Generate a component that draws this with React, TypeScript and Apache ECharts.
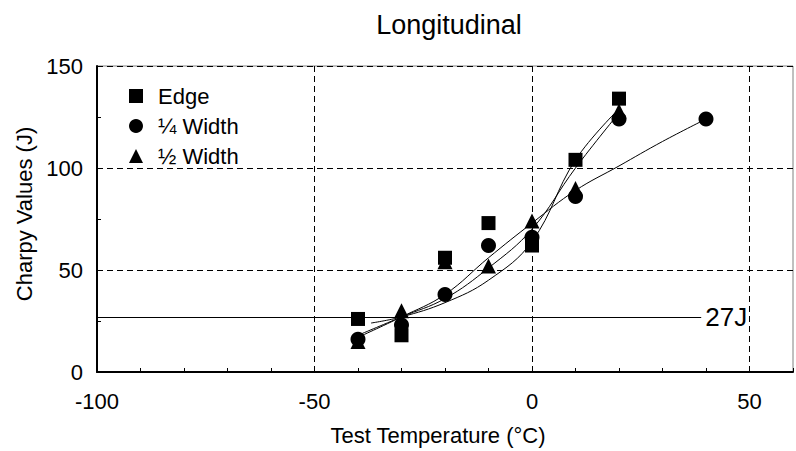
import React, { useEffect, useRef } from "react";
import * as echarts from "echarts";

const FONT = "Liberation Sans";

// Measured points
const edgeX = [-40, -30, -20, -10, 0, 10, 20];
const edgeY = [26, 18, 56, 73, 62, 104, 134];
const quarterX = [-40, -30, -20, -10, 0, 10, 20, 40];
const quarterY = [16, 23, 38, 62, 66, 86, 124, 124];
const halfX = [-40, -30, -20, -10, 0, 10, 20];
const halfY = [15, 30, 54, 52, 74, 90, 128];

// Fitted curves
const edgeFitX = [-37, -30, -20, -10, 0, 10, 20];
const edgeFitY = [24, 27, 34, 45, 64, 104, 129];
const quarterFitX = [-40, -30, -20, -10, 0, 10, 20, 30, 40];
const quarterFitY = [17, 27, 38, 56, 73, 89, 101, 113, 124];
const halfFitX = [-40, -30, -20, -10, 0, 10, 20];
const halfFitY = [18, 27, 36, 51, 70, 100, 127];

const thresholdValue = 27;
const thresholdRange = [-100, 38.9];
const thresholdLabel = "27J";

const xGrid = [-50, 0, 50];
const yGrid = [50, 100, 150];

const zip = (xs: number[], ys: number[]) => xs.map((x, i) => [x, ys[i]]);

export default function App() {
  const ref = useRef<HTMLDivElement>(null);
  useEffect(() => {
    if (!ref.current) return;
    const chart = echarts.init(ref.current, null, { renderer: "svg" });
    const fitLine = (name: string, xs: number[], ys: number[]) => ({
      name,
      type: "line",
      data: zip(xs, ys),
      smooth: 0.4,
      symbol: "none",
      lineStyle: { color: "#000", width: 1 },
      silent: true,
      z: 2,
    });
    const pointSeries = (name: string, symbol: string, xs: number[], ys: number[], size: number) => ({
      name,
      type: "scatter",
      data: zip(xs, ys),
      symbol,
      symbolSize: size,
      itemStyle: { color: "#000", opacity: 1 },
      z: 3,
    });
    chart.setOption({
      animation: false,
      backgroundColor: "#fff",
      textStyle: { fontFamily: FONT },
      title: {
        text: "Longitudinal",
        left: 444,
        textAlign: "center",
        top: 6,
        textStyle: { fontFamily: FONT, fontSize: 27, fontWeight: "normal", color: "#000" },
      },
      grid: {
        left: 97,
        right: 2,
        top: 66,
        bottom: 78,
        show: true,
        borderColor: "#808080",
        borderWidth: 1,
      },
      legend: {
        orient: "vertical",
        left: 114,
        top: 77,
        padding: [8, 10, 6, 15],
        backgroundColor: "#fff",
        itemWidth: 14,
        itemHeight: 14,
        itemGap: 8,
        z: 4,
        textStyle: { fontFamily: FONT, fontSize: 22, color: "#000", padding: [0, 0, 0, 10] },
        data: [
          { name: "Edge", icon: "rect", itemStyle: { color: "#000", opacity: 1 } },
          { name: "¼ Width", icon: "circle", itemStyle: { color: "#000", opacity: 1 } },
          { name: "½ Width", icon: "triangle", itemStyle: { color: "#000", opacity: 1 } },
        ],
      },
      xAxis: {
        type: "value",
        min: -100,
        max: 60,
        interval: 10,
        name: "Test Temperature (°C)",
        nameLocation: "middle",
        nameGap: 52,
        nameTextStyle: { fontFamily: FONT, fontSize: 22, color: "#000", padding: [0, 14, 0, 0] },
        axisLine: { show: true, onZero: false, lineStyle: { color: "#000", width: 2 } },
        axisTick: { show: true, inside: true, length: 4, lineStyle: { color: "#000", width: 1 } },
        axisLabel: {
          fontFamily: FONT,
          fontSize: 22,
          color: "#000",
          margin: 18,
          formatter: (v: number) => (v % 50 === 0 ? String(v) : ""),
        },
        splitLine: { show: false },
      },
      yAxis: {
        type: "value",
        min: 0,
        max: 150,
        interval: 25,
        name: "Charpy Values (J)",
        nameLocation: "middle",
        nameGap: 56,
        nameTextStyle: { fontFamily: FONT, fontSize: 22, color: "#000", padding: [0, 0, 0, 10] },
        axisLine: { show: true, onZero: false, lineStyle: { color: "#000", width: 2 } },
        axisTick: { show: true, inside: true, length: 4, lineStyle: { color: "#000", width: 1 } },
        axisLabel: {
          fontFamily: FONT,
          fontSize: 22,
          color: "#000",
          margin: 14,
          formatter: (v: number) => (v % 50 === 0 ? String(v) : ""),
        },
        splitLine: { show: false },
      },
      series: [
        {
          name: "grid",
          type: "line",
          data: [],
          silent: true,
          z: 1,
          markLine: {
            silent: true,
            symbol: "none",
            label: { show: false },
            lineStyle: { color: "#000", width: 1, type: [6, 4] },
            data: [
              ...xGrid.map((v) => ({ xAxis: v })),
              ...yGrid.map((v) => ({ yAxis: v })),
            ],
          },
        },
        {
          name: "threshold",
          type: "line",
          data: [],
          silent: true,
          z: 2,
          markLine: {
            silent: true,
            symbol: "none",
            lineStyle: { color: "#000", width: 1, type: "solid" },
            label: {
              show: true,
              position: "end",
              formatter: thresholdLabel,
              fontFamily: FONT,
              fontSize: 26,
              color: "#000",
              distance: 4,
            },
            data: [
              [
                { coord: [thresholdRange[0], thresholdValue] },
                { coord: [thresholdRange[1], thresholdValue] },
              ],
            ],
          },
        },
        fitLine("edgeFit", edgeFitX, edgeFitY),
        fitLine("quarterFit", quarterFitX, quarterFitY),
        fitLine("halfFit", halfFitX, halfFitY),
        pointSeries("Edge", "rect", edgeX, edgeY, 14),
        pointSeries("½ Width", "triangle", halfX, halfY, 15),
        pointSeries("¼ Width", "circle", quarterX, quarterY, 15),
      ],
    });
    return () => chart.dispose();
  }, []);
  return <div ref={ref} style={{ width: 796, height: 451, position: "absolute", left: 0, top: 0 }} />;
}
